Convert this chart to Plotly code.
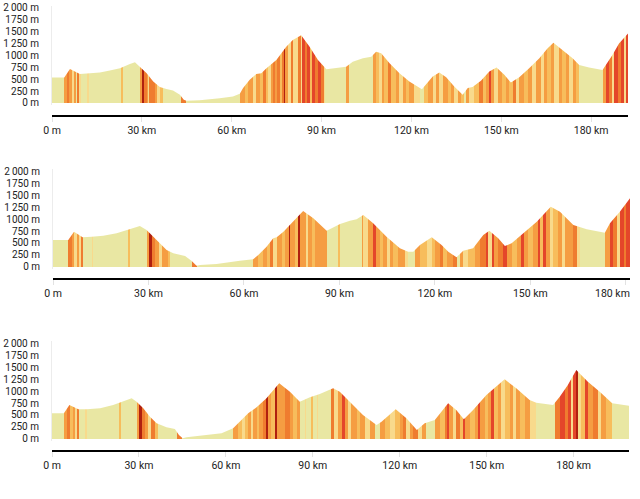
import plotly.graph_objects as go

# ---------------- data ----------------
# Elevation profiles (km, m)
KM1 = [0, 4.1, 6.0, 7.5, 9.3, 12.7, 16, 19.3, 22.7, 26, 27.7, 29.3, 31.6, 33.8, 36, 38.2, 40.4, 42.7, 44.0, 44.9,
       49.3, 56, 60.4, 62.7, 63.8, 66, 68.2, 69.9, 71.6, 74.9, 78.2, 80.4, 83.2, 86, 88.8, 91.6, 94.9, 98.2, 100.4, 103.8,
       106.6, 108.2, 109.9, 112.7, 116, 119.3, 123.5, 127.1, 129.3, 131.6, 134.3, 137.1, 138.8, 140.4, 143.2, 146, 148.4,
       151, 153.2, 156, 159.3, 162.7, 165.4, 167.4, 170.4, 173.8, 176, 179.3, 183.8, 184.9, 187.1, 189.3, 192.3]
ELEV1 = [532, 532, 713, 660, 609, 624, 637, 678, 728, 817, 853, 761, 624, 449, 333, 291, 262, 173, 69, 48,
         60, 100, 137, 193, 312, 485, 609, 624, 728, 901, 1177, 1317, 1421, 1177, 901, 707, 728, 761, 865, 936,
         969, 1073, 1040, 832, 624, 449, 290, 553, 637, 541, 345, 173, 312, 333, 464, 657, 741,
         589, 428, 541, 728, 936, 1144, 1261, 1109, 936, 797, 741, 693, 797, 1005, 1248, 1456]

KM2 = [0, 4.8, 6.6, 9.3, 12.2, 15.8, 20, 23.7, 27.3, 29.4, 31.5, 33.6, 35.7, 37.8, 41.5, 43.6, 45.1, 46.2, 51.4, 58.7,
       62.9, 64.5, 67.1, 69.2, 70.3, 72.4, 75.5, 78.6, 81.8, 83.9, 86, 90.2, 93.3, 95.4, 97.5, 100.6, 104.8, 109, 111.6,
       113.2, 115.3, 119, 122.1, 124.2, 126.8, 128.9, 132, 135.2, 137.1, 139.9, 142, 144.1, 147.8, 152, 156.4, 159.3,
       163.5, 167.7, 173.4, 175, 178.1, 181.3]
ELEV2 = [562, 562, 736, 618, 632, 653, 701, 771, 854, 771, 632, 493, 354, 285, 229, 125, 27, 42, 62, 132,
         160, 250, 424, 597, 618, 736, 944, 1166, 1014, 875, 757, 896, 965, 993, 1083, 910, 632, 389, 319,
         319, 458, 618, 458, 319, 201, 340, 389, 667, 757, 597, 437, 493, 701, 944, 1257, 1153,
         875, 785, 715, 910, 1153, 1430]

KM3 = [0, 4.1, 6.0, 9.1, 12, 16.6, 21.1, 24.6, 27.5, 29.2, 31.5, 33.8, 36.1, 39.5, 42.4, 43.8, 45.1, 46.4, 53.3, 58.5,
       62.5, 64.8, 67.7, 70.6, 74, 78.4, 82.1, 85.5, 89, 92.4, 97, 99.3, 102.8, 107.3, 112, 113.7, 118.6, 122.3, 125.9,
       128.6, 132.1, 136.7, 139.5, 142.1, 145.3, 149.9, 156.2, 160.2, 164.8, 167.1, 172.9, 175.2, 178, 180.9, 184.9,
       189, 193.3, 199.1]
ELEV3 = [535, 535, 708, 618, 618, 639, 708, 778, 847, 778, 639, 465, 326, 243, 208, 83, 14, 35, 83, 118,
         222, 361, 535, 660, 847, 1160, 985, 778, 868, 937, 1056, 985, 778, 500, 292, 361, 618, 431, 187,
         326, 396, 743, 604, 410, 604, 917, 1243, 1056, 812, 757, 708, 882, 1125, 1437, 1194,
         985, 743, 694]

# Gradient classes along the route: (start km, class); 0 = flat ... 6 = steepest
RUNS1 = [(0, 0), (4.1, 3), (4.9, 4), (5.8, 3), (6.6, 1), (7.3, 3), (8.0, 0), (8.4, 4), (9.1, 1), (9.6, 0), (11.8, 1),
         (12.2, 0), (23.2, 2), (23.8, 0), (29.3, 3), (30.2, 6), (30.8, 4), (31.6, 3), (32.2, 1), (32.5, 4), (34.5, 3),
         (35.0, 1), (36.0, 2), (36.9, 0), (43.2, 4), (44.9, 0),
         (62.7, 3), (64.3, 2), (65.4, 3), (67.1, 1), (68.2, 3), (69.3, 2), (70.4, 4), (71.6, 2), (72.1, 1), (73.0, 3),
         (73.8, 4), (74.3, 3), (75.2, 4), (76.0, 2), (76.8, 4), (77.4, 6), (77.9, 3), (78.8, 1), (79.7, 4), (80.4, 1),
         (82.1, 4), (83.0, 1), (83.4, 5), (84.3, 4), (85.2, 5), (86.0, 2), (86.8, 5), (87.7, 4), (88.8, 5), (89.9, 4),
         (90.8, 1), (91.3, 0),
         (98.2, 3), (99.1, 0), (107.1, 3), (108.2, 2), (109.3, 1), (110.2, 3), (111.0, 2), (112.1, 4), (113.2, 2),
         (114.9, 3), (116.0, 1), (117.1, 3), (118.2, 2), (119.3, 3), (121.0, 1), (122.7, 0),
         (124.3, 2), (125.4, 3), (127.1, 1), (128.2, 3), (129.3, 1), (130.4, 3), (132.1, 2), (133.2, 3), (134.3, 1),
         (135.4, 3), (136.6, 2), (137.7, 0), (138.2, 3), (139.3, 1), (141.0, 2), (142.7, 4), (143.8, 2), (144.9, 3),
         (146.0, 5), (146.7, 3), (147.7, 1), (148.8, 3), (150.4, 2), (151.6, 3), (152.7, 2), (153.8, 4), (154.9, 1),
         (156.0, 3), (157.7, 2), (158.8, 3), (160.4, 1), (161.6, 3), (163.2, 1), (164.3, 3), (165.4, 2), (166.6, 3),
         (167.7, 1), (169.3, 3), (170.4, 2), (171.6, 3), (172.7, 1), (173.8, 3), (174.9, 2), (175.8, 0), (183.8, 3),
         (184.9, 5), (186.0, 4), (187.1, 1), (187.7, 5), (188.8, 4), (189.9, 5), (191.0, 1), (191.6, 5)]

RUNS2 = [(0, 0), (4.8, 4), (5.9, 3), (6.6, 1), (7.6, 3), (8.1, 1), (8.8, 4), (9.3, 0), (12.2, 1), (12.7, 0),
         (23.7, 2), (24.2, 0), (29.4, 3), (30.3, 6), (31.0, 4), (32.0, 3), (33.4, 1), (34.1, 3), (36.2, 2), (36.9, 0),
         (43.6, 4), (45.1, 0),
         (62.9, 3), (64.5, 2), (66.1, 3), (67.1, 2), (68.2, 4), (69.2, 1), (70.3, 3), (71.9, 2), (72.9, 3), (74.0, 6),
         (74.5, 3), (76.1, 2), (77.1, 6), (77.6, 3), (79.5, 1), (80.2, 3), (81.3, 2), (82.3, 3), (86.0, 0), (89.6, 2),
         (90.2, 0),
         (97.0, 3), (97.5, 1), (99.1, 3), (100.6, 5), (101.5, 3), (102.7, 2), (103.8, 3), (104.8, 1), (105.9, 3),
         (106.9, 2), (108.5, 3), (110.6, 1), (111.6, 0), (113.7, 3), (115.3, 2), (117.4, 1), (119.0, 2), (120.0, 3),
         (121.6, 4), (122.4, 2), (123.7, 3), (125.8, 4), (126.8, 0), (127.9, 3), (128.9, 1), (130.5, 2), (132.6, 3),
         (134.1, 4), (136.2, 5), (136.8, 1), (137.8, 5), (138.5, 3), (139.9, 4), (141.5, 5), (142.5, 3), (144.1, 2),
         (145.7, 3), (147.2, 5), (148.0, 3), (149.3, 2), (150.9, 3), (152.5, 5), (153.0, 2), (154.0, 5), (154.9, 3),
         (156.1, 1), (157.2, 2), (158.7, 3), (159.8, 1), (160.8, 3), (163.5, 4), (164.5, 1), (165.6, 0), (173.4, 3),
         (175.0, 5), (176.0, 4), (177.1, 1), (178.1, 5), (179.4, 4), (180.2, 5)]

RUNS3 = [(0, 0), (4.1, 3), (5.1, 4), (6.2, 2), (7.1, 3), (7.9, 1), (8.5, 4), (9.3, 0), (11.4, 1), (12.0, 0),
         (23.2, 2), (23.8, 0), (29.2, 3), (30.1, 6), (30.9, 4), (32.1, 3), (33.2, 1), (34.0, 4), (35.5, 2), (36.7, 0),
         (43.0, 4), (44.7, 0),
         (62.5, 3), (64.3, 2), (65.4, 1), (66.5, 2), (67.7, 3), (68.5, 1), (69.4, 3), (70.6, 2), (71.5, 3), (72.9, 4),
         (74.0, 6), (74.6, 3), (75.7, 2), (76.9, 6), (77.5, 3), (80.3, 4), (82.1, 3), (83.2, 2), (84.4, 3), (85.5, 0),
         (87.2, 1), (87.8, 0), (89.5, 2), (90.1, 0), (91.3, 1), (91.8, 0),
         (96.4, 4), (97.2, 1), (98.7, 3), (99.9, 5), (101.0, 3), (102.2, 1), (103.3, 3), (105.1, 2), (106.2, 3),
         (107.9, 1), (109.7, 3), (111.4, 0), (113.1, 3), (114.8, 2), (116.5, 1), (118.3, 2), (120.0, 3), (121.1, 4),
         (122.3, 1), (123.4, 3), (124.6, 4), (126.3, 1), (127.5, 3), (129.2, 0), (132.1, 3), (133.8, 2), (135.5, 4),
         (136.3, 5), (137.0, 3), (138.4, 1), (139.5, 4), (140.7, 2), (141.8, 5), (142.6, 3), (144.1, 2), (145.9, 3),
         (147.0, 5), (147.8, 3), (149.3, 2), (150.5, 3), (151.6, 5), (152.4, 2), (153.9, 3), (155.0, 1), (156.2, 2),
         (157.9, 3), (159.1, 1), (160.2, 3), (161.4, 2), (163.1, 3), (164.8, 1), (167.1, 0), (173.4, 4), (175.2, 5),
         (176.9, 4), (178.0, 5), (179.2, 1), (179.8, 5), (180.9, 6), (181.5, 1), (182.6, 2), (183.8, 5), (184.9, 3),
         (186.7, 4), (188.4, 1), (189.5, 3), (191.3, 2), (193.3, 0)]

X_TICKS = [0, 30, 60, 90, 120, 150, 180]
X_TICK_TEXT = ["0 m", "30 km", "60 km", "90 km", "120 km", "150 km", "180 km"]
Y_TICKS = [0, 250, 500, 750, 1000, 1250, 1500, 1750, 2000]
Y_TICK_TEXT = ["0 m", "250 m", "500 m", "750 m", "1000 m", "1\u2009250 m", "1500 m", "1750 m", "2\u2009000 m"]

# ---------------- style ----------------
CLASS_COLORS = ["#e9e7a3", "#f8da8c", "#f7bd5c", "#f59d42", "#ef7c2f", "#e4462a", "#b0200f"]
FONT = "Roboto, Arial, sans-serif"
TXT = "#222222"

W, H = 640, 499
# pixel geometry per panel: x-left, x-right, y-top(2040 m), y-bottom(-40 m), axis line y
PANELS = [
    (KM1, ELEV1, RUNS1, 52, 628, 5.6, 104.9, 115.5),
    (KM2, ELEV2, RUNS2, 53, 630, 169.1, 268.9, 278.5),
    (KM3, ELEV3, RUNS3, 52, 629, 341.1, 440.9, 450.5),
]


def build_scale(runs, end):
    scale = []
    for i, (s, c) in enumerate(runs):
        e = runs[i + 1][0] if i + 1 < len(runs) else end
        col = CLASS_COLORS[c]
        scale.append([min(s / end, 1.0), col])
        scale.append([min(e / end, 1.0), col])
    scale[0][0] = 0.0
    scale[-1][0] = 1.0
    return scale


fig = go.Figure()
layout = dict(
    width=W, height=H, margin=dict(l=0, r=0, t=0, b=0, autoexpand=False),
    paper_bgcolor="white", plot_bgcolor="white", showlegend=False,
    font=dict(family=FONT, size=10, color=TXT),
)

for i, (km, elev, runs, xl, xr, yt, yb, ax) in enumerate(PANELS):
    n = "" if i == 0 else str(i + 1)
    end = km[-1]
    fig.add_trace(go.Scatter(
        x=km, y=elev, mode="lines", line=dict(width=0),
        fill="tozeroy",
        fillgradient=dict(type="horizontal", colorscale=build_scale(runs, end), start=0, stop=end),
        xaxis="x" + n, yaxis="y" + n, hoverinfo="skip",
    ))
    # the last tick label is drawn right-aligned so it stays inside the page
    last_fits = (xr + 20) <= W or X_TICKS[-1] < end - 6
    ttext = list(X_TICK_TEXT)
    if not last_fits:
        ttext[-1] = ""
        fig.add_annotation(
            x=X_TICKS[-1], y=1 - ax / H, xref="x" + n, yref="paper",
            text=X_TICK_TEXT[-1], showarrow=False, xanchor="right", yanchor="top",
            xshift=6, yshift=-6, font=dict(family=FONT, size=10.5, color=TXT),
        )
    layout["xaxis" + n] = dict(
        domain=[xl / W, xr / W], range=[0, end], anchor="free", position=1 - ax / H,
        showline=True, linecolor="black", linewidth=2, automargin=False,
        ticks="outside", ticklen=5, tickcolor="#e2e2e2", tickwidth=1,
        tickvals=X_TICKS, ticktext=ttext, showgrid=False, zeroline=False,
        tickfont=dict(family=FONT, size=10.5, color=TXT),
    )
    layout["yaxis" + n] = dict(
        domain=[1 - yb / H, 1 - yt / H], range=[-40, 2040], anchor="x" + n,
        showline=True, linecolor="#ececec", linewidth=1, automargin=False,
        ticks="outside", ticklen=10, tickcolor="rgba(0,0,0,0)",
        tickvals=Y_TICKS, ticktext=Y_TICK_TEXT, showgrid=False, zeroline=False,
        tickfont=dict(family=FONT, size=10, color=TXT),
    )

fig.update_layout(**layout)
fig.write_html("out.html")
